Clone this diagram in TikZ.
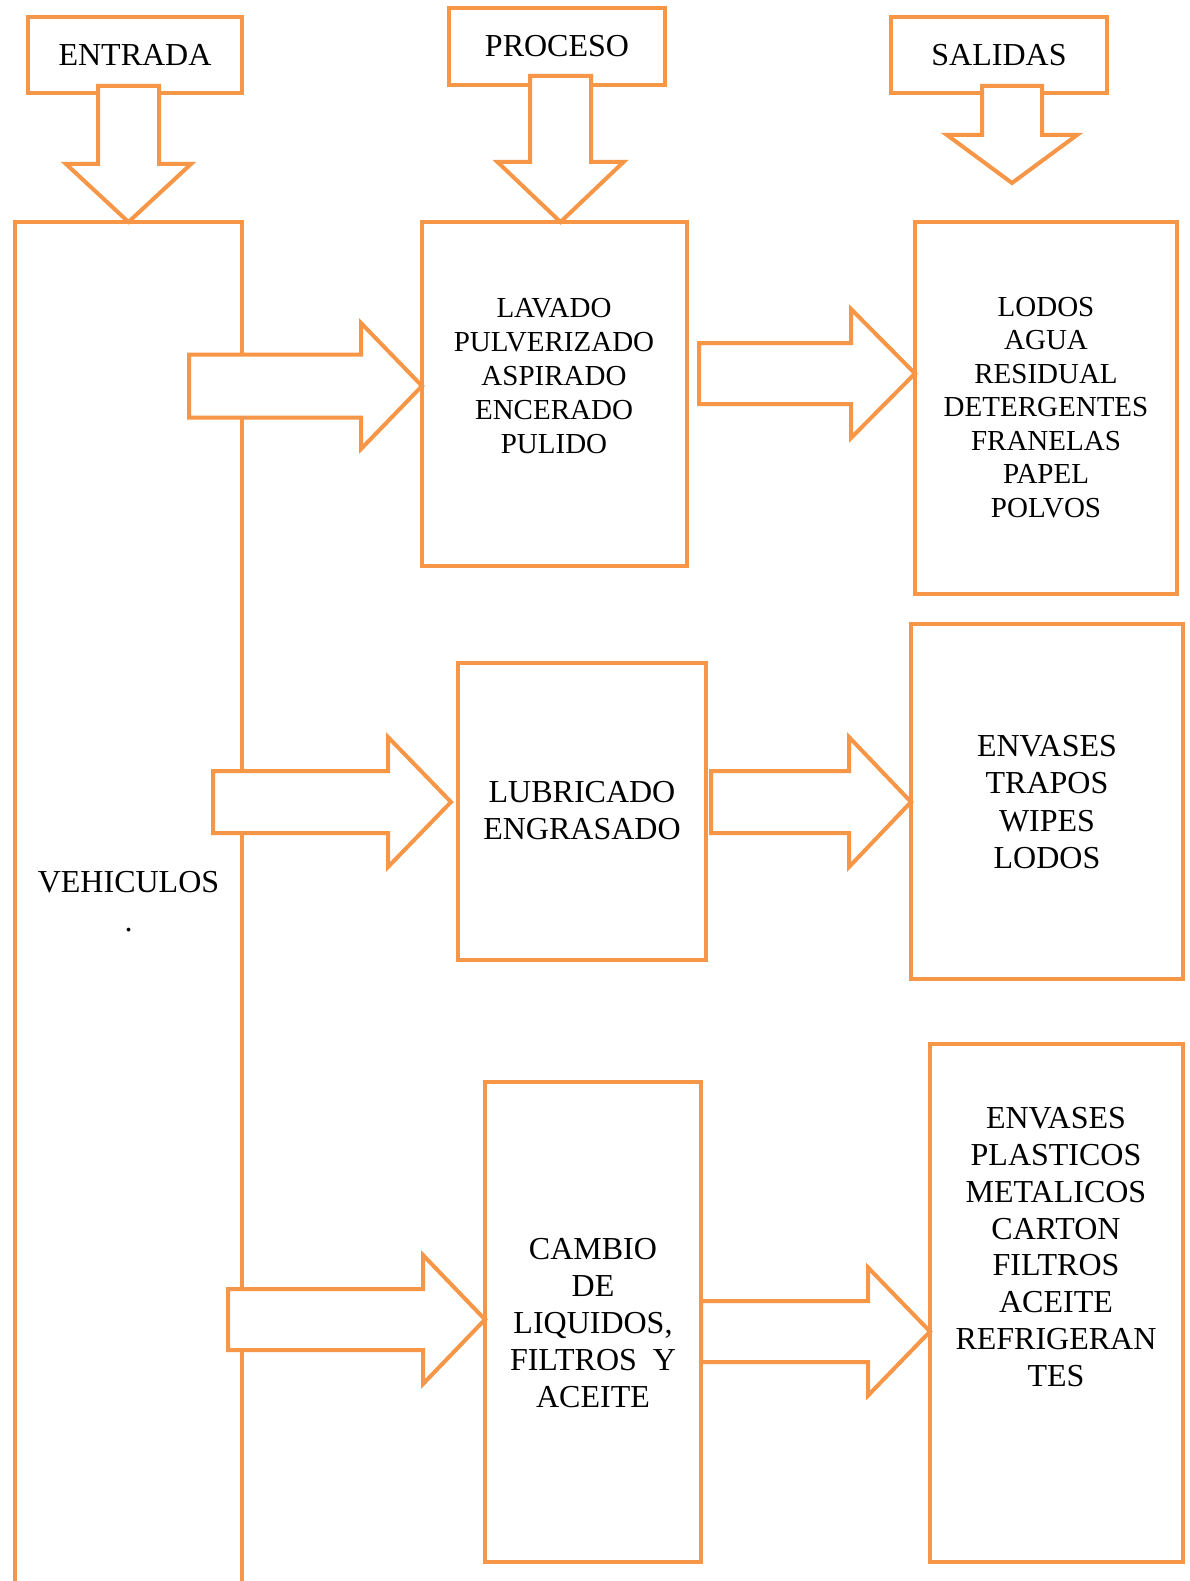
\documentclass[tikz,border=0pt]{standalone}
\usepackage{fontspec}
\setmainfont{Liberation Serif}
\usetikzlibrary{calc,fit}
\definecolor{boxorange}{HTML}{F79646}
\tikzset{
  box/.style={draw=boxorange, line width=4bp, fill=white, rectangle, inner sep=0pt, outer sep=0pt},
  blockarrow/.style={draw=boxorange, line width=4bp, fill=white, line join=miter},
  lbl/.style={align=center, inner sep=0pt, text=black, font=\fontsize{32bp}{37bp}\selectfont},
  smalllbl/.style={lbl, font=\fontsize{29bp}{34bp}\selectfont},
}
% horizontal block arrow: tail point, tip point, shaft half width, head half width, head length
\newcommand{\rightblock}[5]{%
  \draw[blockarrow] let \p1=(#1), \p2=(#2) in
    (\x1,\y2+#3) -- (\x2-#5,\y2+#3) -- (\x2-#5,\y2+#4) -- (\x2,\y2)
    -- (\x2-#5,\y2-#4) -- (\x2-#5,\y2-#3) -- (\x1,\y2-#3) -- cycle;}
% vertical block arrow: top point, tip point, shaft half width, head half width, head length
\newcommand{\downblock}[5]{%
  \draw[blockarrow] let \p1=(#1), \p2=(#2) in
    (\x2-#3,\y1) -- (\x2+#3,\y1) -- (\x2+#3,\y2+#5) -- (\x2+#4,\y2+#5) -- (\x2,\y2)
    -- (\x2-#4,\y2+#5) -- (\x2-#3,\y2+#5) -- cycle;}
\begin{document}
\begin{tikzpicture}[x=1bp, y=-1bp]
\useasboundingbox (0,0) rectangle (1189,1581);
\fill[white] (0,0) rectangle (1189,1581);
\clip (0,0) rectangle (1189,1581);

% column headers
\node[box, fit={(28,17) (242,93)}] (entrada) {};
\node[box, fit={(449,8) (665,85)}] (proceso) {};
\node[box, fit={(891,17) (1107,93)}] (salidas) {};
\node[lbl] at (entrada.center) {ENTRADA};
\node[lbl] at (proceso.center) {PROCESO};
\node[lbl] at (salidas.center) {SALIDAS};

% input column (runs past the lower edge)
\node[box, fit={(15,222) (242,1700)}] (veh) {};
\node[lbl, font=\fontsize{32bp}{39bp}\selectfont] at (128.5,902) {VEHICULOS\\.};

% process boxes
\node[box, fit={(422,222) (687,566)}] (p1) {};
\node[box, fit={(458,663) (706,960)}] (p2) {};
\node[box, fit={(485,1082) (701,1562)}] (p3) {};

% output boxes
\node[box, fit={(915,222) (1177,594)}] (s1) {};
\node[box, fit={(911,624) (1183,979)}] (s2) {};
\node[box, fit={(930,1044) (1183,1562)}] (s3) {};

% box texts
\node[smalllbl] at (554,376) {LAVADO\\PULVERIZADO\\ASPIRADO\\ENCERADO\\PULIDO};
\node[lbl, font=\fontsize{29bp}{33.5bp}\selectfont] at (1046,407.5)
  {LODOS\\AGUA\\RESIDUAL\\DETERGENTES\\FRANELAS\\PAPEL\\POLVOS};
\node[lbl] at (582,811) {LUBRICADO\\ENGRASADO};
\node[lbl, font=\fontsize{32bp}{37.3bp}\selectfont] at (1047,802)
  {ENVASES\\TRAPOS\\WIPES\\LODOS};
\node[lbl] at (593,1323) {CAMBIO\\DE\\LIQUIDOS,\\FILTROS\ \ Y\\ACEITE};
\node[lbl, font=\fontsize{32bp}{36.9bp}\selectfont] at (1056,1247)
  {ENVASES\\PLASTICOS\\METALICOS\\CARTON\\FILTROS\\ACEITE\\REFRIGERAN\\TES};

% downward arrows under the headers
\coordinate (etop) at (129.5,86);
\coordinate (ptop) at (560.5,76);
\coordinate (stop) at (1012,86);
\coordinate (stip) at (1012,183);
\downblock{etop}{veh.north}{30.5bp}{62.5bp}{58bp}
\downblock{ptop}{ptop |- p1.north}{30.5bp}{63bp}{60bp}
\downblock{stop}{stip}{30bp}{65bp}{48bp}

% arrows from the input column to each process
\coordinate (a1) at (189,386);
\coordinate (a3) at (213,802);
\coordinate (a5) at (228,1319.5);
\rightblock{a1}{p1.west |- a1}{31.5bp}{63bp}{61bp}
\rightblock{a3}{$(p2.west |- a3)+(-7,0)$}{31bp}{65bp}{63bp}
\rightblock{a5}{p3.west |- a5}{30.5bp}{64.5bp}{62bp}

% arrows from each process to its outputs
\coordinate (a2) at (699,373.5);
\coordinate (a4) at (711,802);
\coordinate (a6) at (701,1331.5);
\rightblock{a2}{s1.west |- a2}{30.5bp}{64.5bp}{64bp}
\rightblock{a4}{s2.west |- a4}{31bp}{65bp}{62bp}
\rightblock{a6}{s3.west |- a6}{30.5bp}{64bp}{62bp}
\end{tikzpicture}
\end{document}
